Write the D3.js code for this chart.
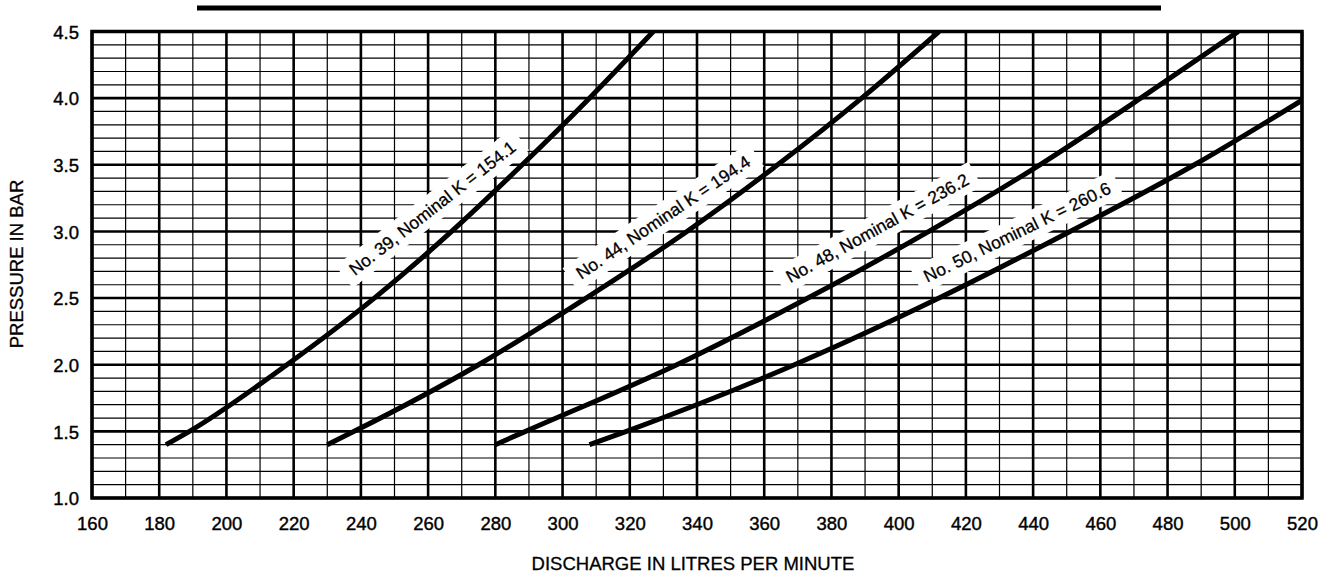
<!DOCTYPE html>
<html>
<head>
<meta charset="utf-8">
<script src="https://cdn.jsdelivr.net/npm/d3@7"></script>
<style>
  html, body { margin: 0; padding: 0; background: #fff; }
  svg { display: block; font-family: "Liberation Sans", Arial, Helvetica, sans-serif; }
</style>
</head>
<body>
<svg id="chart" width="1326" height="576"></svg>
<script>
// ---- data ----
const dischargeTicks = [160, 180, 200, 220, 240, 260, 280, 300, 320, 340, 360, 380, 400, 420, 440, 460, 480, 500, 520];
const pressureTicks = [1.0, 1.5, 2.0, 2.5, 3.0, 3.5, 4.0, 4.5];
const pressureTickLabels = ["1.0", "1.5", "2.0", "2.5", "3.0", "3.5", "4.0", "4.5"];

const seriesNames = ["No. 39, Nominal K = 154.1", "No. 44, Nominal K = 194.4", "No. 48, Nominal K = 236.2", "No. 50, Nominal K = 260.6"];

const no39Pressure  = [1.4, 1.5, 2.0, 2.5, 3.0, 3.5, 4.0, 4.5];
const no39Discharge = [182, 189, 218, 244, 267, 288, 308, 327];

const no44Pressure  = [1.4, 1.5, 2.0, 2.5, 3.0, 3.5, 4.0, 4.5];
const no44Discharge = [230, 238, 275, 307, 337, 364, 389, 412];

const no48Pressure  = [1.4, 1.5, 2.0, 2.5, 3.0, 3.5, 4.0, 4.5];
const no48Discharge = [280, 289, 334, 373, 409, 442, 472, 501];

const no50Pressure  = [1.4, 1.5, 2.0, 2.5, 3.0, 3.5, 4.0];
const no50Discharge = [308, 319, 369, 412, 451, 488, 521];

// label anchors (data units) and text angles
const labelDischarge = [261.2, 329.9, 393.6, 435.2];
const labelPressure  = [3.176, 3.108, 3.026, 2.996];
const labelAngle     = [-38, -34, -29, -26];

const xTitle = "DISCHARGE IN LITRES PER MINUTE";
const yTitle = "PRESSURE IN BAR";

// ---- layout ----
const svg = d3.select("#chart");
const M = { left: 92, top: 31.5, right: 24, bottom: 78 };
const W = 1326 - M.left - M.right;   // 1210
const H = 576 - M.top - M.bottom;    // 466.5

const x = d3.scaleLinear().domain([160, 520]).range([M.left, M.left + W]);
const y = d3.scaleLinear().domain([1.0, 4.5]).range([M.top + H, M.top]);

const FONT = "Liberation Sans, Arial, Helvetica, sans-serif";

// top rule
svg.append("rect")
  .attr("x", 197).attr("y", 5.5).attr("width", 964).attr("height", 5)
  .attr("fill", "#000");

// ---- grid ----
const grid = svg.append("g");
const minorX = d3.range(160, 521, 10);
const minorY = d3.range(10, 46, 1).map(d => d / 10);

grid.selectAll(".vx").data(minorX).join("line")
  .attr("x1", d => x(d)).attr("x2", d => x(d))
  .attr("y1", y(1.0)).attr("y2", y(4.5))
  .attr("stroke", "#000")
  .attr("stroke-width", d => (d % 20 === 0) ? 2.6 : 1.2);

grid.selectAll(".hy").data(minorY).join("line")
  .attr("y1", d => y(d)).attr("y2", d => y(d))
  .attr("x1", x(160)).attr("x2", x(520))
  .attr("stroke", "#000")
  .attr("stroke-width", d => (Math.round(d * 10) % 5 === 0) ? 2.6 : 1.2);

// ---- labels with white backing (drawn over grid, under curves) ----
const labelG = svg.append("g");
seriesNames.forEach((name, i) => {
  const g = labelG.append("g")
    .attr("transform", `translate(${x(labelDischarge[i])},${y(labelPressure[i])}) rotate(${labelAngle[i]})`);
  const t = g.append("text")
    .attr("text-anchor", "middle")
    .attr("dy", "0.36em")
    .attr("font-size", 17.5)
    .attr("font-family", FONT)
    .attr("fill", "#000")
    .attr("stroke", "#000").attr("stroke-width", 0.3)
    .text(name);
  const bb = t.node().getBBox();
  g.insert("rect", "text")
    .attr("x", bb.x - 9).attr("y", bb.y - 4)
    .attr("width", bb.width + 18).attr("height", bb.height + 8)
    .attr("fill", "#fff");
});

// ---- frame ----
svg.append("rect")
  .attr("x", x(160)).attr("y", y(4.5))
  .attr("width", x(520) - x(160)).attr("height", y(1.0) - y(4.5))
  .attr("fill", "none").attr("stroke", "#000").attr("stroke-width", 3.5);

// ---- curves ----
svg.append("clipPath").attr("id", "plotclip")
  .append("rect")
  .attr("x", x(160)).attr("y", y(4.5))
  .attr("width", x(520) - x(160)).attr("height", y(1.0) - y(4.5));

const seriesP = [no39Pressure, no44Pressure, no48Pressure, no50Pressure];
const seriesQ = [no39Discharge, no44Discharge, no48Discharge, no50Discharge];
const line = d3.line().x(d => x(d[0])).y(d => y(d[1])).curve(d3.curveMonotoneX);

const curves = svg.append("g").attr("clip-path", "url(#plotclip)");
seriesQ.forEach((qs, i) => {
  const pts = qs.map((q, j) => [q, seriesP[i][j]]);
  curves.append("path")
    .attr("d", line(pts))
    .attr("fill", "none")
    .attr("stroke", "#000")
    .attr("stroke-width", 5)
    .attr("stroke-linecap", "butt");
});

// ---- axes ----
const xAxis = d3.axisBottom(x).tickValues(dischargeTicks).tickSize(0).tickPadding(0).tickFormat(d3.format("d"));
const gx = svg.append("g").attr("transform", `translate(0,${y(1.0)})`).call(xAxis);
gx.select(".domain").remove();
gx.selectAll("text").attr("font-size", 18.5).attr("font-family", FONT)
  .attr("fill", "#000").attr("stroke", "#000").attr("stroke-width", 0.4)
  .attr("y", 0).attr("dy", 31.5);

const yAxis = d3.axisLeft(y).tickValues(pressureTicks).tickSize(0).tickPadding(0)
  .tickFormat((d, i) => pressureTickLabels[i]);
const gy = svg.append("g").attr("transform", `translate(${x(160)},0)`).call(yAxis);
gy.select(".domain").remove();
gy.selectAll("text").attr("font-size", 18.5).attr("font-family", FONT)
  .attr("fill", "#000").attr("stroke", "#000").attr("stroke-width", 0.4)
  .attr("x", -13).attr("dy", "0.36em");

// ---- titles ----
svg.append("text")
  .attr("x", 693).attr("y", 570)
  .attr("text-anchor", "middle")
  .attr("font-size", 18.5)
  .attr("font-family", FONT)
  .attr("fill", "#000").attr("stroke", "#000").attr("stroke-width", 0.3)
  .text(xTitle);

svg.append("text")
  .attr("transform", `translate(23,264) rotate(-90)`)
  .attr("text-anchor", "middle")
  .attr("font-size", 18.5)
  .attr("font-family", FONT)
  .attr("fill", "#000").attr("stroke", "#000").attr("stroke-width", 0.3)
  .text(yTitle);
</script>
</body>
</html>
